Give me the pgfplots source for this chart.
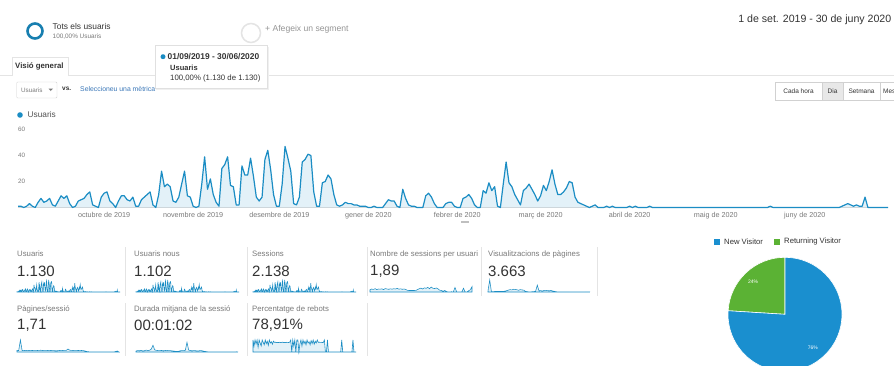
\documentclass[border=0pt]{standalone}
\usepackage{fontspec}
\setmainfont{Liberation Sans}
\usepackage{pgfplots}
\usepackage{pgfplotstable}
\pgfplotsset{compat=1.18}

\definecolor{gablue}{HTML}{1B8DC4}
\definecolor{gafill}{HTML}{E3F1F8}
\definecolor{gagreen}{HTML}{5BB234}
\definecolor{piebl}{HTML}{1A8FCF}
\definecolor{txt}{HTML}{333333}
\definecolor{lbl}{HTML}{7A7A7A}
\definecolor{sep}{HTML}{E4E4E4}
\definecolor{link}{HTML}{3A77B8}
\newcommand{\sz}[1]{\fontsize{#1}{#1}\selectfont}

% daily users, 1 Sep 2019 - 30 Jun 2020
\pgfplotstableread[row sep=\\]{
v\\
1\\1\\0\\1\\3\\1\\0\\4\\7\\4\\
5\\7\\2\\1\\5\\9\\7\\9\\3\\0\\
1\\5\\6\\7\\10\\12\\2\\1\\0\\8\\
11\\12\\5\\3\\0\\5\\9\\9\\6\\5\\
8\\1\\1\\6\\8\\10\\12\\2\\0\\10\\
28\\16\\18\\16\\5\\4\\8\\18\\28\\9\\
8\\1\\0\\1\\18\\39\\14\\22\\10\\4\\
1\\30\\33\\39\\17\\16\\2\\2\\32\\25\\
25\\38\\24\\8\\5\\8\\37\\44\\29\\10\\
1\\1\\18\\47\\38\\28\\3\\2\\8\\35\\
37\\41\\40\\12\\1\\1\\19\\20\\25\\22\\
10\\2\\1\\2\\4\\3\\3\\2\\2\\1\\
1\\1\\0\\0\\1\\0\\0\\0\\3\\6\\
5\\5\\1\\0\\14\\7\\2\\1\\1\\0\\
0\\0\\9\\11\\8\\3\\0\\0\\0\\3\\
4\\4\\1\\0\\0\\7\\8\\10\\7\\2\\
0\\0\\13\\11\\19\\13\\16\\1\\0\\18\\
35\\19\\16\\10\\6\\2\\13\\15\\18\\14\\
10\\5\\9\\17\\13\\20\\29\\18\\10\\10\\
12\\15\\20\\19\\8\\4\\3\\2\\1\\0\\
1\\2\\0\\0\\0\\1\\0\\1\\0\\0\\
0\\0\\0\\1\\0\\1\\0\\0\\0\\0\\
1\\0\\0\\0\\0\\0\\0\\0\\0\\0\\
0\\0\\0\\0\\0\\0\\0\\0\\0\\0\\
0\\0\\0\\0\\0\\0\\0\\0\\0\\0\\
0\\0\\0\\0\\0\\0\\0\\0\\0\\0\\
0\\0\\1\\0\\0\\0\\0\\0\\0\\0\\
0\\0\\0\\0\\0\\0\\0\\0\\0\\0\\
0\\0\\0\\0\\0\\0\\0\\1\\2\\3\\
2\\1\\2\\1\\1\\8\\0\\0\\0\\0\\
0\\0\\0\\0\\
}\users

% sparklines, one value every 5 days
\pgfplotstableread[row sep=\\]{
v\\
1.5\\2\\1.7\\2.2\\1.6\\2\\1.9\\2.1\\1.6\\2.3\\
2\\1.8\\2.1\\1.9\\2.2\\2\\2.4\\1.9\\2.1\\1.8\\
2\\1.7\\1.1\\1\\1\\1\\1\\1.1\\1.6\\2.2\\
2.6\\2\\2.8\\2.4\\3.1\\2.2\\3.3\\2.5\\2.3\\2.7\\
2.1\\1.2\\1\\0.5\\1\\0.3\\0\\0\\0.2\\0\\
3\\0\\0\\0\\0\\2.5\\0\\0\\0.8\\1.5\\
3.5\\
}\spu

\pgfplotstableread[row sep=\\]{
v\\
30\\350\\10\\12\\15\\14\\16\\18\\20\\18\\
25\\40\\55\\70\\60\\80\\75\\65\\50\\70\\
60\\55\\20\\10\\5\\5\\8\\12\\20\\200\\
35\\40\\30\\45\\50\\40\\35\\45\\30\\20\\
8\\5\\3\\2\\1\\1\\1\\1\\0\\0\\
0\\0\\0\\0\\0\\0\\0\\0\\2\\4\\
0\\
}\views

\pgfplotstableread[row sep=\\]{
v\\
1.6\\1.5\\12\\1.5\\1.6\\1.4\\1.7\\1.5\\1.6\\1.5\\
1.6\\1.7\\1.5\\1.6\\1.8\\1.5\\1.6\\1.7\\1.5\\1.6\\
1.5\\1.4\\1.3\\1.2\\1.3\\1.5\\1.6\\1.5\\1.7\\1.6\\
3\\1.8\\1.6\\1.5\\1.7\\1.6\\1.5\\1.6\\1.5\\1.4\\
1\\0.5\\0.3\\0\\0\\0\\0\\0\\0\\0\\
0\\0\\0\\0\\0\\0\\0\\0\\0.5\\1\\
0\\
}\pps

\pgfplotstableread[row sep=\\]{
v\\
40\\60\\50\\70\\45\\55\\80\\60\\75\\120\\
280\\90\\70\\60\\55\\65\\50\\60\\70\\55\\
60\\50\\40\\30\\20\\30\\50\\60\\55\\70\\
400\\80\\60\\50\\60\\55\\45\\50\\60\\50\\
30\\20\\10\\0\\0\\0\\0\\0\\0\\0\\
0\\0\\0\\0\\0\\0\\0\\0\\0\\10\\
0\\
}\dur

% bounce rate, one value every 3 days
\pgfplotstableread[row sep=\\]{
v\\
100\\50\\100\\67\\100\\40\\100\\75\\50\\100\\80\\60\\100\\70\\90\\55\\100\\75\\85\\65\\90\\
80\\82\\78\\80\\79\\81\\78\\80\\82\\79\\80\\78\\81\\80\\79\\82\\
100\\0\\100\\50\\100\\0\\100\\100\\0\\67\\100\\50\\100\\70\\90\\60\\100\\75\\85\\60\\95\\70\\100\\65\\90\\75\\100\\
80\\82\\80\\81\\79\\80\\100\\
0\\0\\100\\0\\0\\0\\0\\0\\0\\0\\0\\0\\0\\0\\0\\0\\100\\0\\0\\0\\0\\0\\0\\0\\0\\0\\0\\100\\0\\0\\0\\
}\bounce

\pgfplotsset{
  spark/.style={scale only axis, width=103pt, height=12pt, hide axis,
    xmin=0, xmax=303, ymin=0, enlargelimits=false, anchor=south west, clip=false},
  spk/.style={draw=gablue, line width=0.55pt, fill=gafill},
}

\begin{document}
\begin{tikzpicture}
\path[use as bounding box] (0pt,0pt) rectangle (894pt,-365pt);
\begin{scope}[x=1pt,y=-1pt]
\fill[white] (0,0) rectangle (894,365);
% segment header
\draw[gablue!90!black, line width=2.6pt] (35,31) circle (7.5);
\node[anchor=west, inner sep=0, text=txt, font=\sz{8.4}] at (52.5,26.7) {Tots els usuaris};
\node[anchor=west, inner sep=0, text=lbl, font=\sz{6.4}] at (52.5,36.7) {100,00\% Usuaris};
\draw[sep, line width=1.5pt] (251,33) circle (9.5);
\node[anchor=west, inner sep=0, text=lbl!80, font=\sz{8.6}] at (265,29.5) {+ Afegeix un segment};
\node[anchor=east, inner sep=0, text=txt, font=\sz{10.6}] at (891.5,20) {1 de set. 2019 - 30 de juny 2020};
% tab
\draw[sep] (0,75) -- (11.7,75) -- (11.7,56.7) -- (68.3,56.7) -- (68.3,75) -- (894,75);
\node[anchor=west, inner sep=0, text=txt, font=\bfseries\sz{7.8}] at (15,66) {Visió general};
% tooltip
\fill[black!6] (156,46.5) rectangle (268.5,89.8);
\draw[fill=white, draw=black!12] (155,45) rectangle (267,88.3);
\fill[gablue] (163,56.7) circle (2.5);
\node[anchor=west, inner sep=0, text=txt, font=\bfseries\sz{8.4}] at (167.5,56.7) {01/09/2019 - 30/06/2020};
\node[anchor=west, inner sep=0, text=txt, font=\bfseries\sz{7.5}] at (170,68.3) {Usuaris};
\node[anchor=west, inner sep=0, text=txt, font=\sz{7.8}] at (170,78.3) {100,00\% (1.130 de 1.130)};
% metric selector
\draw[black!18, rounded corners=1pt] (16.7,82) rectangle (57,98);
\node[anchor=west, inner sep=0, text=lbl, font=\sz{6.3}] at (21,90) {Usuaris};
\fill[lbl] (48.5,88.5) -- (53,88.5) -- (50.75,91) -- cycle;
\node[anchor=west, inner sep=0, text=txt, font=\bfseries\sz{6.5}] at (62,89) {vs.};
\node[anchor=west, inner sep=0, text=link, font=\sz{6.85}] at (80,89) {Seleccioneu una mètrica};
% period buttons
\fill[black!9] (822,82) rectangle (843,100);
\draw[black!18] (775,82) rectangle (900,100);
\draw[black!18] (822,82) -- (822,100) (843,82) -- (843,100) (880,82) -- (880,100);
\node[text=txt, font=\sz{6.5}, inner sep=0] at (798.5,91) {Cada hora};
\node[text=txt, font=\sz{6.5}, inner sep=0] at (832.5,91) {Dia};
\node[text=txt, font=\sz{6.5}, inner sep=0] at (861.5,91) {Setmana};
\node[anchor=west, text=txt, font=\sz{6.5}, inner sep=0] at (883,91) {Mes};
% legend of the main chart
\fill[gablue] (20,115) circle (2.8);
\node[anchor=west, inner sep=0, text=txt!85, font=\sz{8.3}] at (27.5,115) {Usuaris};
\fill[black!25] (461,221) rectangle (469,223);
% scorecards
\foreach \xx in {125,246.7,366.7,480.7,596.7} \draw[sep] (\xx,247) -- (\xx,296);
\foreach \xx in {125,246.7,366.7} \draw[sep] (\xx,303) -- (\xx,356);
\foreach \xx/\lab/\val in {17/Usuaris/1.130, 134/Usuaris nous/1.102, 252/Sessions/2.138,
    370/Nombre de sessions per usuari/{1,89}, 488/Visualitzacions de pàgines/3.663} {
  \node[anchor=west, inner sep=0, text=lbl, font=\sz{7.8}] at (\xx,254) {\lab};
  \node[anchor=west, inner sep=0, text=txt, font=\sz{15}] at (\xx,271.7) {\val};
}
\foreach \xx/\lab/\val in {17/{Pàgines/sessió}/{1,71}, 134/Durada mitjana de la sessió/00:01:02,
    252/Percentatge de rebots/{78,91\%}} {
  \node[anchor=west, inner sep=0, text=lbl, font=\sz{7.8}] at (\xx,309.3) {\lab};
  \node[anchor=west, inner sep=0, text=txt, font=\sz{15}] at (\xx,325) {\val};
}
% pie legend
\fill[piebl] (713.5,238.5) rectangle (720,245);
\node[anchor=west, inner sep=0, text=txt, font=\sz{7.7}] at (724,241.7) {New Visitor};
\fill[gagreen] (773.5,238.5) rectangle (780,245);
\node[anchor=west, inner sep=0, text=txt, font=\sz{7.7}] at (784,241.7) {Returning Visitor};
\end{scope}

% main chart
\begin{axis}[
  at={(18pt,-207.5pt)}, anchor=south west,
  scale only axis, width=870pt, height=78pt,
  xmin=0, xmax=303, ymin=0, ymax=60,
  axis line style={draw=none}, major tick length=0pt,
  xtick={30,61,91,122,153,182,213,243,274},
  xticklabels={octubre de 2019, novembre de 2019, desembre de 2019, gener de 2020,
    febrer de 2020, març de 2020, abril de 2020, maig de 2020, juny de 2020},
  xticklabel style={font=\sz{7.2}, text=lbl, anchor=north, yshift=-1pt},
  ytick={20,40,60},
  yticklabel style={font=\sz{6.3}, text=lbl, anchor=west, xshift=-3.5pt},
  /pgf/number format/assume math mode=true,
  clip=false,
]
\draw[black!35] (axis cs:0,0) -- (axis cs:303,0);
\addplot[draw=none, fill=gafill] table[x expr=\coordindex, y=v] {\users} \closedcycle;
\addplot[gablue, line width=1.2pt, line join=round] table[x expr=\coordindex, y=v] {\users};
\end{axis}

% sparklines, first row
\begin{axis}[spark, at={(17pt,-292pt)}]
\addplot[spk] table[x expr=\coordindex, y=v] {\users} \closedcycle;
\end{axis}
\begin{axis}[spark, at={(136pt,-292pt)}]
\addplot[spk] table[x expr=\coordindex, y=v] {\users} \closedcycle;
\end{axis}
\begin{axis}[spark, at={(253pt,-292pt)}]
\addplot[spk] table[x expr=\coordindex, y=v] {\users} \closedcycle;
\end{axis}
\begin{axis}[spark, at={(370pt,-292pt)}, ymax=8]
\addplot[spk] table[x expr=\coordindex*5, y=v] {\spu} \closedcycle;
\end{axis}
\begin{axis}[spark, at={(488pt,-292pt)}]
\addplot[spk] table[x expr=\coordindex*5, y=v] {\views} \closedcycle;
\end{axis}
% sparklines, second row
\begin{axis}[spark, at={(17pt,-352pt)}]
\addplot[spk] table[x expr=\coordindex*5, y=v] {\pps} \closedcycle;
\end{axis}
\begin{axis}[spark, at={(136pt,-352pt)}, ymax=500]
\addplot[spk] table[x expr=\coordindex*5, y=v] {\dur} \closedcycle;
\end{axis}
\begin{axis}[spark, at={(253pt,-352pt)}, ymax=100]
\addplot[draw=gablue, line width=0.6pt, fill=gafill] table[x expr=\coordindex*3, y=v] {\bounce} \closedcycle;
\end{axis}

% pie chart
\begin{scope}
\clip (0pt,0pt) rectangle (894pt,-365pt);
\begin{axis}[at={(785pt,-314.3pt)}, anchor=center, scale only axis,
  width=114pt, height=114pt, xmin=-1, xmax=1, ymin=-1, ymax=1, hide axis, clip=false]
\pgfmathsetmacro{\newv}{76}
\pgfmathsetmacro{\retv}{24}
\fill[gagreen, draw=white, line width=0.6pt] (axis cs:0,0) -- (axis cs:0,1)
  arc[start angle=90, delta angle=\retv*3.6, radius=57pt] -- cycle;
\fill[piebl, draw=white, line width=0.6pt] (axis cs:0,0) -- (axis cs:0,1)
  arc[start angle=90, delta angle=-\newv*3.6, radius=57pt] -- cycle;
\node[white, font=\sz{5}] at (axis cs:-0.56,0.57) {24\%};
\node[white, font=\sz{5}] at (axis cs:0.49,-0.59) {76\%};
\end{axis}
\end{scope}
\end{tikzpicture}
\end{document}
